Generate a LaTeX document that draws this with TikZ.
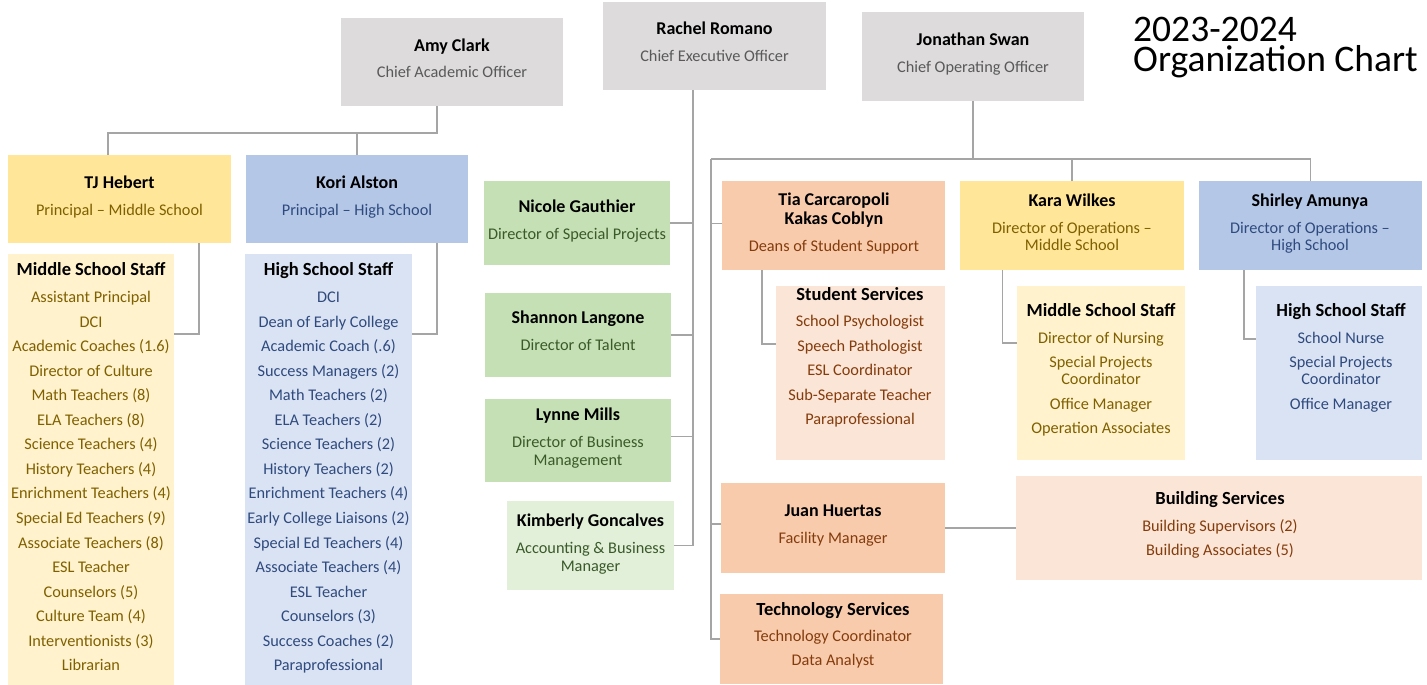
\documentclass[tikz,border=0pt]{standalone}
\usepackage{fontspec}
\setmainfont{Carlito}
\definecolor{greybox}{HTML}{DDDBDC}
\definecolor{greytext}{HTML}{595959}
\definecolor{yelbox}{HTML}{FFE699}
\definecolor{yellite}{HTML}{FFF2CC}
\definecolor{olivetext}{HTML}{7F6000}
\definecolor{bluebox}{HTML}{B4C7E7}
\definecolor{bluelite}{HTML}{DAE3F3}
\definecolor{bluetext}{HTML}{2F4A7E}
\definecolor{greenbox}{HTML}{C5E0B4}
\definecolor{greenlite}{HTML}{E2F0D9}
\definecolor{greentext}{HTML}{3A5A2A}
\definecolor{orangebox}{HTML}{F8CBAD}
\definecolor{orangelite}{HTML}{FBE5D6}
\definecolor{browntext}{HTML}{843C0C}
\definecolor{linegrey}{HTML}{A5A5A5}
\newcommand\orgbox[6]{\node[orgrect,fill=#2,minimum width={(#5-#3)*1pt},minimum height={(#6-#4)*1pt}] (#1) at ({(#3+#5)/2},{(#4+#6)/2}) {};}
\begin{document}
\begin{tikzpicture}[x=1pt,y=-1pt,
 orgrect/.style={rectangle,draw=none,inner sep=0pt,outer sep=0pt},
 conn/.style={draw=linegrey,line width=1.4pt},
 nm/.style={font=\fontsize{18pt}{20pt}\selectfont\bfseries,anchor=base,inner sep=0pt,text=black},
 hd/.style={font=\fontsize{18.5pt}{20pt}\selectfont\bfseries,anchor=base,inner sep=0pt,text=black},
 sb/.style={font=\fontsize{16.3pt}{19pt}\selectfont,anchor=base,inner sep=0pt},
 ttl/.style={font=\fontsize{37.5pt}{30pt}\selectfont,anchor=north west,inner sep=0pt,text=black,align=left}
]
\useasboundingbox (0,0) rectangle (1427,685);
\fill[white] (0,0) rectangle (1427,685);

% boxes
\orgbox{amy}{greybox}{341}{18}{563}{106}
\orgbox{rachel}{greybox}{603}{2}{826}{90}
\orgbox{jon}{greybox}{862}{12}{1084}{101}
\orgbox{tj}{yelbox}{8}{155}{231}{243}
\orgbox{kori}{bluebox}{246}{155}{468}{243}
\orgbox{msstaff}{yellite}{8}{254}{174}{685}
\orgbox{hsstaff}{bluelite}{245}{254}{412}{685}
\orgbox{nicole}{greenbox}{484}{181}{670}{265}
\orgbox{shannon}{greenbox}{485}{293}{671}{377}
\orgbox{lynne}{greenbox}{485}{399}{671}{482}
\orgbox{kim}{greenlite}{507}{501}{674}{590}
\orgbox{tia}{orangebox}{722}{181}{945}{270}
\orgbox{kara}{yelbox}{960}{181}{1184}{270}
\orgbox{shirley}{bluebox}{1199}{181}{1422}{270}
\orgbox{stud}{orangelite}{776}{286}{945}{460}
\orgbox{msops}{yellite}{1017}{286}{1185}{460}
\orgbox{hsops}{bluelite}{1256}{286}{1422}{460}
\orgbox{juan}{orangebox}{721}{483}{945}{573}
\orgbox{bld}{orangelite}{1016}{476}{1422}{580}
\orgbox{tech}{orangebox}{720}{594}{943}{684}

% connectors
\coordinate (abus) at (108,133);
\draw[conn] ([xshift=-15pt]amy.south) |- (abus) -- ([xshift=-11.5pt]tj.north);
\draw[conn] (kori.north) -- (kori.north |- abus);
\draw[conn] ([xshift=79.5pt]tj.south) |- ([yshift=-80pt]msstaff.north east);
\draw[conn] ([xshift=80pt]kori.south) |- ([yshift=-80pt]hsstaff.north east);
\coordinate (rbus) at ([xshift=-21.5pt]rachel.south);
\draw[conn] (rbus) |- (kim.east);
\draw[conn] (nicole.east) -- (nicole.east -| rbus);
\draw[conn] (shannon.east) -- (shannon.east -| rbus);
\draw[conn] ([yshift=4pt]lynne.east) -- ([yshift=4pt]lynne.east -| rbus);
\coordinate (jbus) at (711,159);
\draw[conn] (jon.south) -- (jon.south |- jbus);
\draw[conn] (jbus) -| (shirley.north);
\draw[conn] (jbus) |- (tech.west);
\draw[conn] (kara.north) -- (kara.north |- jbus);
\draw[conn] ([yshift=2pt]tia.west) -- ([yshift=2pt]tia.west -| jbus);
\draw[conn] ([yshift=4pt]juan.west) -- ([yshift=4pt]juan.west -| jbus);
\draw[conn] (juan.east) -- (bld.west |- juan.east);
\draw[conn] ([xshift=-71.5pt]tia.south) |- ([yshift=-58pt]stud.north west);
\draw[conn] ([xshift=-69.5pt]kara.south) |- ([yshift=-57pt]msops.north west);
\draw[conn] ([xshift=-66.5pt]shirley.south) |- ([yshift=-53pt]hsops.north west);

% title
\node[ttl] (title) at (1133,17) {2023-2024\\Organization Chart};

% top
\node[nm] (amyN) at (452,51.5) {Amy Clark};
\node[sb,text=greytext] (amyT) at (452,77.3) {Chief Academic Officer};
\node[nm] (rachelN) at (714.5,35) {Rachel Romano};
\node[sb,text=greytext] (rachelT) at (714.5,61.7) {Chief Executive Officer};
\node[nm] (jonN) at (973,45.7) {Jonathan Swan};
\node[sb,text=greytext] (jonT) at (973,72.3) {Chief Operating Officer};

% principals
\node[nm] (tjN) at (119.5,188.3) {TJ Hebert};
\node[sb,text=olivetext] (tjT) at (119.5,215) {Principal \textendash{} Middle School};
\node[nm] (koriN) at (357,188.3) {Kori Alston};
\node[sb,text=bluetext] (koriT) at (357,215) {Principal \textendash{} High School};

% staff lists
\node[hd] (msH) at (91,275) {Middle School Staff};
\foreach \t [count=\i] in {Assistant Principal, DCI, Academic Coaches (1.6), Director of Culture, Math Teachers (8), ELA Teachers (8), Science Teachers (4), History Teachers (4), Enrichment Teachers (4), Special Ed Teachers (9), Associate Teachers (8), ESL Teacher, Counselors (5), Culture Team (4), Interventionists (3), Librarian}
  \node[sb,text=olivetext] (ms\i) at (91,{302.7+24.53*(\i-1)}) {\t};
\node[hd] (hsH) at (328.5,275) {High School Staff};
\foreach \t [count=\i] in {DCI, Dean of Early College, Academic Coach (.6), Success Managers (2), Math Teachers (2), ELA Teachers (2), Science Teachers (2), History Teachers (2), Enrichment Teachers (4), Early College Liaisons (2), Special Ed Teachers (4), Associate Teachers (4), ESL Teacher, Counselors (3), Success Coaches (2), Paraprofessional}
  \node[sb,text=bluetext] (hs\i) at (328.5,{302.7+24.53*(\i-1)}) {\t};

% green column
\node[nm] (nicoleN) at (577,212.5) {Nicole Gauthier};
\node[sb,text=greentext] (nicoleT) at (577,239.3) {Director of Special Projects};
\node[nm] (shannonN) at (578,323.3) {Shannon Langone};
\node[sb,text=greentext] (shannonT) at (578,350) {Director of Talent};
\node[nm] (lynneN) at (578,420.7) {Lynne Mills};
\node[sb,text=greentext] (lynneT1) at (578,447.3) {Director of Business};
\node[sb,text=greentext] (lynneT2) at (578,465) {Management};
\node[nm] (kimN) at (590.5,526) {Kimberly Goncalves};
\node[sb,text=greentext] (kimT1) at (590.5,553.3) {Accounting \& Business};
\node[sb,text=greentext] (kimT2) at (590.5,571) {Manager};

% operations
\node[nm] (tiaN1) at (834,205) {Tia Carcaropoli};
\node[nm] (tiaN2) at (834,224.5) {Kakas Coblyn};
\node[sb,text=browntext] (tiaT) at (834,251.7) {Deans of Student Support};
\node[nm] (karaN) at (1072,206.7) {Kara Wilkes};
\node[sb,text=olivetext] (karaT1) at (1072,233.3) {Director of Operations \textendash};
\node[sb,text=olivetext] (karaT2) at (1072,250.7) {Middle School};
\node[nm] (shirleyN) at (1310,206.7) {Shirley Amunya};
\node[sb,text=bluetext] (shirleyT1) at (1310,233.3) {Director of Operations \textendash};
\node[sb,text=bluetext] (shirleyT2) at (1310,250.7) {High School};

\node[hd] (studH) at (860,300) {Student Services};
\foreach \t [count=\i] in {School Psychologist, Speech Pathologist, ESL Coordinator, Sub-Separate Teacher, Paraprofessional}
  \node[sb,text=browntext] (stud\i) at (860,{326.7+24.5*(\i-1)}) {\t};

\node[hd] (msoH) at (1101,316) {Middle School Staff};
\foreach \yy/\t [count=\i] in {343.3/Director of Nursing, 367.3/Special Projects, 384.3/Coordinator, 409/Office Manager, 433.3/Operation Associates}
  \node[sb,text=olivetext] (mso\i) at (1101,\yy) {\t};

\node[hd] (hsoH) at (1341,316) {High School Staff};
\foreach \yy/\t [count=\i] in {343.3/School Nurse, 367.3/Special Projects, 384.3/Coordinator, 409/Office Manager}
  \node[sb,text=bluetext] (hso\i) at (1341,\yy) {\t};

\node[nm] (juanN) at (833,516.7) {Juan Huertas};
\node[sb,text=browntext] (juanT) at (833,543.3) {Facility Manager};
\node[hd] (bldH) at (1220,504) {Building Services};
\node[sb,text=browntext] (bld1) at (1220,531) {Building Supervisors (2)};
\node[sb,text=browntext] (bld2) at (1220,555.3) {Building Associates (5)};
\node[hd] (techH) at (833,615) {Technology Services};
\node[sb,text=browntext] (tech1) at (833,641.7) {Technology Coordinator};
\node[sb,text=browntext] (tech2) at (833,665.7) {Data Analyst};
\end{tikzpicture}
\end{document}
